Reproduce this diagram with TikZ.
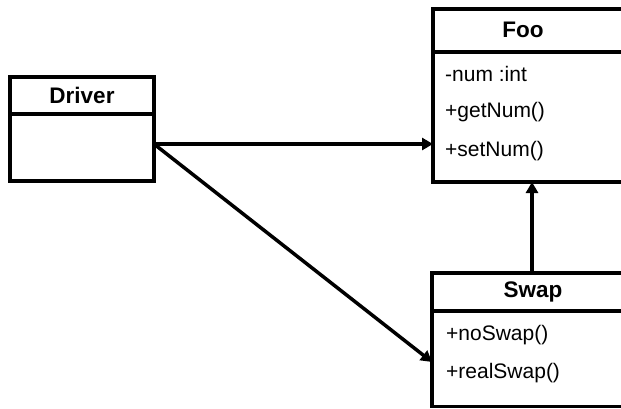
\documentclass[tikz,border=0pt]{standalone}
\usepackage{fontspec}
\setmainfont{Liberation Sans}
\usetikzlibrary{arrows.meta}
\begin{document}
\begin{tikzpicture}[x=1bp,y=1bp,
  boxline/.style={line width=3.5bp},
  conn/.style={line width=3.5bp,-{Triangle[length=11bp,width=12bp]}},
  titletext/.style={font=\fontsize{22.5bp}{26bp}\selectfont\bfseries,inner sep=0pt,anchor=center},
  membertext/.style={font=\fontsize{21bp}{24bp}\selectfont,inner sep=0pt,anchor=west}]
\useasboundingbox (0,0) rectangle (621,408);
\clip (0,0) rectangle (621,408);
% Driver
\draw[boxline] (10,227) rectangle (154,331);
\draw[boxline] (10,294) -- (154,294);
\node[titletext] (drivert) at (82,313) {Driver};
% Foo
\draw[boxline] (433,226) rectangle (650,399);
\draw[boxline] (433,356) -- (650,356);
\node[titletext] (foot) at (523,378) {Foo};
\node[membertext] (f1) at (445,334) {-num :int};
\node[membertext] (f2) at (445,296) {+getNum()};
\node[membertext] (f3) at (445,257) {+setNum()};
% Swap
\draw[boxline] (432,1.5) rectangle (650,135);
\draw[boxline] (432,97) -- (650,97);
\node[titletext] (swapt) at (533,116) {Swap};
\node[membertext] (s1) at (446,73) {+noSwap()};
\node[membertext] (s2) at (446,35) {+realSwap()};
% connectors
\coordinate (dstart) at (154,264);
\coordinate (fooleft) at (433,264);
\coordinate (swapleft) at (432,46);
\coordinate (swaptop) at (532,135);
\coordinate (foobottom) at (532,226);
\draw[conn] (dstart) -- (fooleft);
\draw[conn] (dstart) -- (swapleft);
\draw[conn] (swaptop) -- (foobottom);
\end{tikzpicture}
\end{document}
